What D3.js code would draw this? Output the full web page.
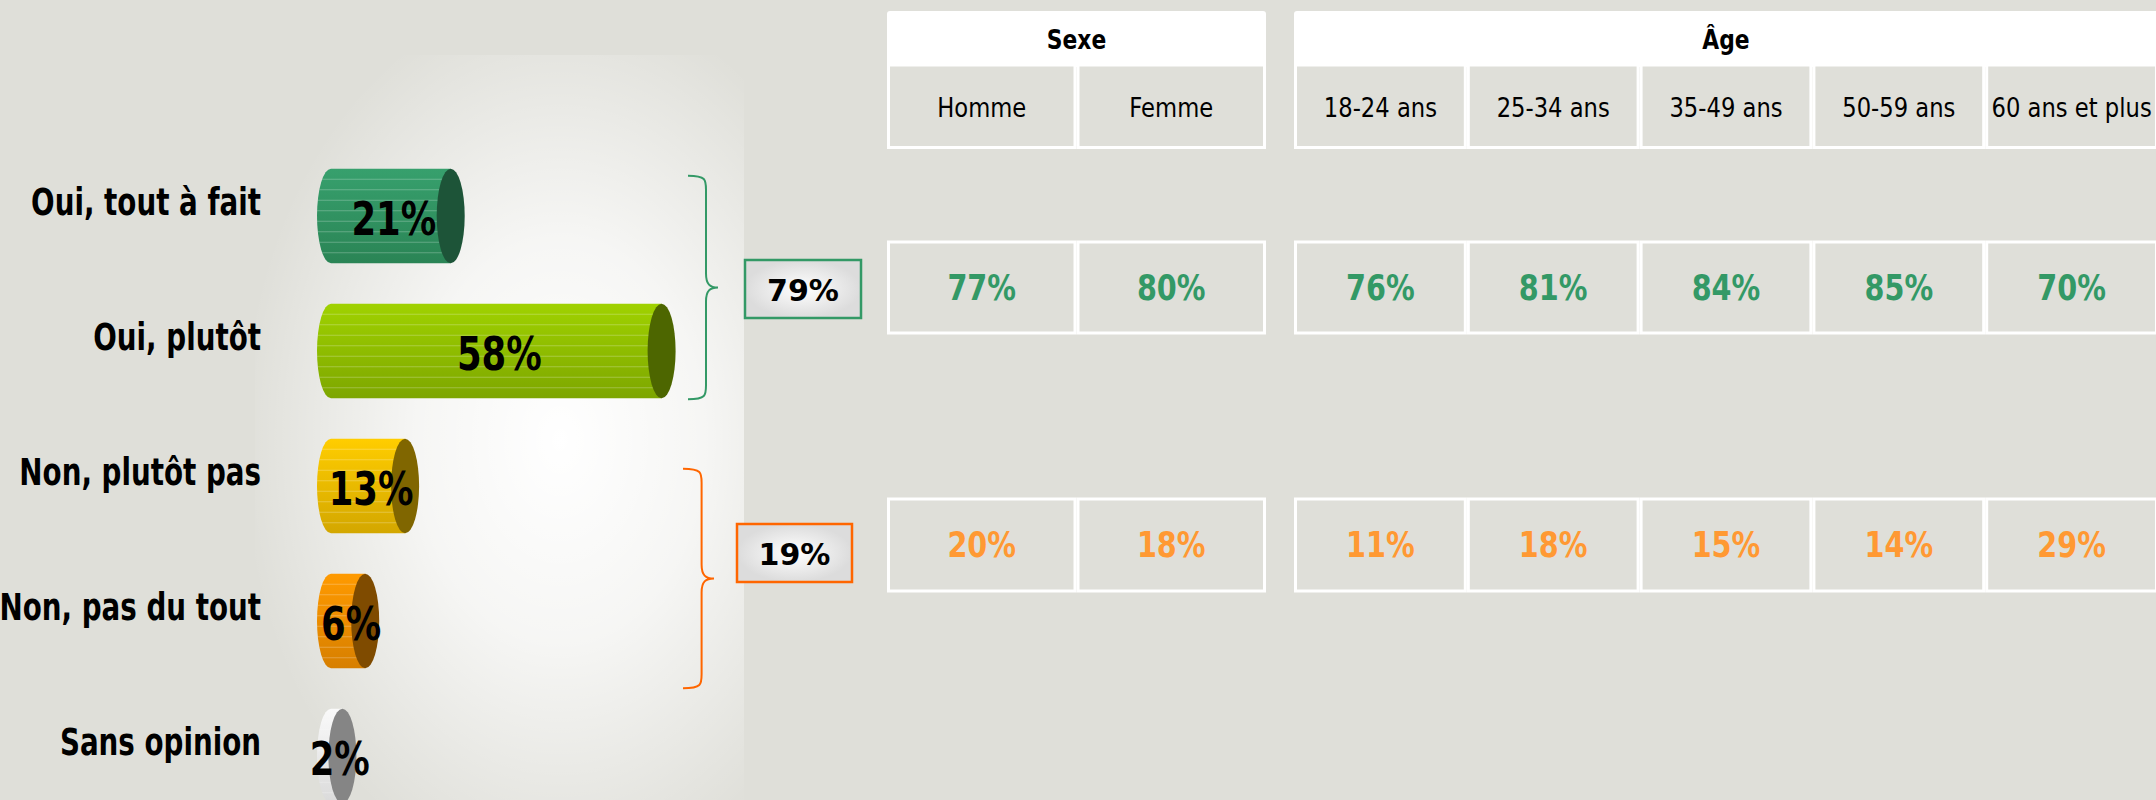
<!DOCTYPE html>
<html>
<head>
<meta charset="utf-8">
<script src="https://cdn.jsdelivr.net/npm/d3@7"></script>
<style>
  html, body { margin: 0; padding: 0; background: #dfdfd9; overflow: hidden; }
  svg { display: block; font-family: "DejaVu Sans", Verdana, sans-serif; }
</style>
</head>
<body>
<div id="chart"></div>
<script>
// --- data ---
const categories = ["Oui, tout à fait", "Oui, plutôt", "Non, plutôt pas", "Non, pas du tout", "Sans opinion"];
const values = [21, 58, 13, 6, 2];

const sexeCols = ["Homme", "Femme"];
const ageCols = ["18-24 ans", "25-34 ans", "35-49 ans", "50-59 ans", "60 ans et plus"];
const groupNames = ["Sexe", "Âge"];

const ouiTotal = 79;
const nonTotal = 19;
const ouiSexe = [77, 80];
const ouiAge = [76, 81, 84, 85, 70];
const nonSexe = [20, 18];
const nonAge = [11, 18, 15, 14, 29];

// --- styles ---
const barColors = [
  {top: "#37a06d", bottom: "#2a8455", cap: "#1d5438"},
  {top: "#a0d200", bottom: "#7da600", cap: "#4d6600"},
  {top: "#ffcd00", bottom: "#d3a700", cap: "#806600"},
  {top: "#ff9a00", bottom: "#d77f00", cap: "#7f4b00"},
  {top: "#fafafa", bottom: "#dadada", cap: "#858585"}
];
const green = "#339966", orange = "#ff6600", orangeText = "#ff9933";
const squeeze = 0.87;   // narrow the DejaVu glyphs a bit

const W = 2156, H = 800;
const svg = d3.select("#chart").append("svg").attr("width", W).attr("height", H);
const defs = svg.append("defs");

svg.append("rect").attr("width", W).attr("height", H).attr("fill", "#dfdfd9");

// soft white glow behind the bars
let glow = defs.append("radialGradient").attr("id", "glow")
  .attr("gradientUnits", "userSpaceOnUse").attr("cx", 560).attr("cy", 440).attr("r", 320)
  .attr("gradientTransform", "translate(560,440) scale(1,1.4) translate(-560,-440)");
glow.append("stop").attr("offset", "0").attr("stop-color", "#fff").attr("stop-opacity", 1);
glow.append("stop").attr("offset", "0.45").attr("stop-color", "#fff").attr("stop-opacity", 0.72);
glow.append("stop").attr("offset", "1").attr("stop-color", "#fff").attr("stop-opacity", 0);
svg.append("rect").attr("x", 255).attr("y", 55).attr("width", 489).attr("height", 750)
  .attr("fill", "url(#glow)");

// condensed text helper
function label(g, x, y, txt, opts) {
  return g.append("text")
    .attr("transform", "translate(" + x + "," + y + ") scale(" + (opts.sx || squeeze) + ",1)")
    .attr("text-anchor", opts.anchor || "middle")
    .attr("dominant-baseline", "central")
    .attr("font-size", opts.size)
    .attr("font-weight", opts.weight || "normal")
    .attr("fill", opts.fill || "#000")
    .text(txt);
}

// --- bars ---
const y = d3.scaleBand().domain(categories).range([148.5, 823.5])
  .paddingInner(0.3).paddingOuter(0.15);
const x = d3.scaleLinear().domain([0, 100]).range([331, 901]);
const rxL = 14, rxR = 14;

const bars = svg.append("g");
categories.forEach(function(c, i) {
  let col = barColors[i];
  let gid = "barGrad" + i;
  let lg = defs.append("linearGradient").attr("id", gid).attr("x1", 0).attr("y1", 0).attr("x2", 0).attr("y2", 1);
  lg.append("stop").attr("offset", "0").attr("stop-color", col.top);
  lg.append("stop").attr("offset", "1").attr("stop-color", col.bottom);

  let top = y(c), bot = y(c) + y.bandwidth(), ry = y.bandwidth() / 2, cy = top + ry;
  let x0 = x(0), x1 = x(values[i]);
  let body = "M" + x0 + "," + top + "L" + x1 + "," + top + "L" + x1 + "," + bot +
             "L" + x0 + "," + bot + "A" + rxL + "," + ry + " 0 0 1 " + x0 + "," + top + "Z";

  defs.append("clipPath").attr("id", "clip" + i).append("path").attr("d", body);
  bars.append("path").attr("d", body).attr("fill", "url(#" + gid + ")");

  // thin light stripes on the body
  let stripes = bars.append("g").attr("clip-path", "url(#clip" + i + ")");
  d3.range(1, 9).forEach(function(k) {
    let yy = top + k * y.bandwidth() / 9;
    stripes.append("line").attr("x1", x0 - rxL).attr("x2", x1).attr("y1", yy).attr("y2", yy)
      .attr("stroke", "#fff").attr("stroke-opacity", 0.25).attr("stroke-width", 1);
  });

  bars.append("ellipse").attr("cx", x1).attr("cy", cy).attr("rx", rxR).attr("ry", ry)
    .attr("fill", col.cap);

  // value on bar
  label(bars, (x0 - rxL + x1 + rxR) / 2 + 3, cy + 3, values[i] + "%", {size: 46, weight: "bold", sx: 0.77});

  // category name
  label(svg, 261, cy - 13, c, {size: 37, weight: "bold", anchor: "end", sx: 0.75});
});

// --- braces + totals ---
function brace(x0, y0, y1, w, color) {
  let ym = (y0 + y1) / 2, xs = x0 + w * 0.6, xt = x0 + w, r = 14;
  let d = "M" + x0 + "," + y0 +
    "C" + (xs) + "," + y0 + " " + xs + "," + (y0 + 4) + " " + xs + "," + (y0 + r) +
    "L" + xs + "," + (ym - r) +
    "C" + xs + "," + (ym - 3) + " " + (xs + 4) + "," + ym + " " + xt + "," + ym +
    "C" + (xs + 4) + "," + ym + " " + xs + "," + (ym + 3) + " " + xs + "," + (ym + r) +
    "L" + xs + "," + (y1 - r) +
    "C" + xs + "," + (y1 - 4) + " " + xs + "," + y1 + " " + x0 + "," + y1;
  svg.append("path").attr("d", d).attr("fill", "none").attr("stroke", color).attr("stroke-width", 2);
}
brace(688, y(categories[0]) + 7, y(categories[1]) + y.bandwidth() + 1, 30, green);
brace(683, y(categories[2]) + 30, y(categories[3]) + y.bandwidth() + 20, 31, orange);

let boxGrad = defs.append("radialGradient").attr("id", "boxGrad");
boxGrad.append("stop").attr("offset", "0").attr("stop-color", "#ffffff");
boxGrad.append("stop").attr("offset", "1").attr("stop-color", "#dcdcdc");

function totalBox(bx, by, bw, bh, v, color) {
  svg.append("rect").attr("x", bx).attr("y", by).attr("width", bw).attr("height", bh)
    .attr("fill", "url(#boxGrad)").attr("stroke", color).attr("stroke-width", 2.5);
  label(svg, bx + bw / 2, by + bh / 2 + 1, v + "%", {size: 31, weight: "bold", sx: 0.97});
}
totalBox(745, 260, 116, 58, ouiTotal, green);
totalBox(737, 524, 115, 58, nonTotal, orange);

// --- cross table ---
const xSexe = d3.scaleBand().domain(sexeCols).range([887, 1266]);
const xAge = d3.scaleBand().domain(ageCols).range([1294, 2158]);
const headTop = 11, headBot = 65, subBot = 149;
const rowOui = [242, 333], rowNon = [499, 591];

function group(name, scale, cols, oui, non) {
  let g = svg.append("g");
  let r = scale.range();
  g.append("rect").attr("x", r[0]).attr("y", headTop).attr("width", r[1] - r[0])
    .attr("height", headBot - headTop + 2).attr("rx", 3).attr("fill", "#fff");
  label(g, (r[0] + r[1]) / 2, (headTop + headBot) / 2 + 2, name, {size: 26, weight: "bold", sx: 0.84});

  cols.forEach(function(c, i) {
    let cx = scale(c), cw = scale.bandwidth();
    g.append("rect").attr("x", cx + 1.5).attr("y", headBot).attr("width", cw - 3)
      .attr("height", subBot - headBot - 1.5).attr("fill", "#dfdfd9")
      .attr("stroke", "#fff").attr("stroke-width", 3);
    label(g, cx + cw / 2, (headBot + subBot) / 2 + 1, c, {size: 27, sx: 0.84});

    [[rowOui, oui[i], green], [rowNon, non[i], orangeText]].forEach(function(rw) {
      g.append("rect").attr("x", cx + 1.5).attr("y", rw[0][0]).attr("width", cw - 3)
        .attr("height", rw[0][1] - rw[0][0]).attr("fill", "#dfdfd9")
        .attr("stroke", "#fff").attr("stroke-width", 3);
      label(g, cx + cw / 2, (rw[0][0] + rw[0][1]) / 2, rw[1] + "%", {size: 35, weight: "bold", fill: rw[2], sx: 0.82});
    });
  });
}
group(groupNames[0], xSexe, sexeCols, ouiSexe, nonSexe);
group(groupNames[1], xAge, ageCols, ouiAge, nonAge);
</script>
</body>
</html>
